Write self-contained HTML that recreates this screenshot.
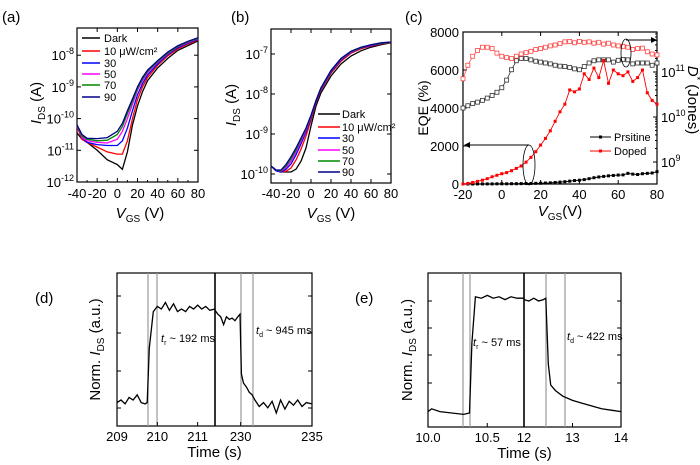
<!DOCTYPE html>
<html><head><meta charset="utf-8"><style>
html,body{margin:0;padding:0;background:#fff}
svg{display:block;font-family:"Liberation Sans",Arial,sans-serif}
</style></head><body>
<svg id="fig" width="700" height="465" viewBox="0 0 700 465" xmlns="http://www.w3.org/2000/svg"></svg>
<script>
// ---------- DATA ----------
const aX=[-40,-35,-30,-20,-10,0,5,10,15,20,25,30,40,50,60,70,80];
const aDark=[-10.45,-10.65,-10.75,-11.0,-11.3,-11.45,-11.6,-11.05,-10.2,-9.6,-9.15,-8.8,-8.4,-8.1,-7.85,-7.7,-7.55];
const a10=[-10.25,-10.65,-10.75,-10.9,-11.05,-11.12,-11.12,-10.7,-10.0,-9.4,-9.0,-8.7,-8.32,-8.02,-7.8,-7.65,-7.52];
const a30=[-10.2,-10.6,-10.75,-10.82,-10.85,-10.85,-10.7,-10.3,-9.75,-9.25,-8.9,-8.62,-8.27,-7.98,-7.76,-7.62,-7.5];
const a50=[-10.2,-10.6,-10.7,-10.75,-10.77,-10.65,-10.4,-10.0,-9.55,-9.1,-8.8,-8.55,-8.22,-7.95,-7.73,-7.6,-7.48];
const a70=[-10.2,-10.55,-10.65,-10.7,-10.68,-10.5,-10.25,-9.85,-9.45,-9.05,-8.75,-8.5,-8.2,-7.93,-7.72,-7.58,-7.47];
const a90=[-10.2,-10.5,-10.62,-10.63,-10.6,-10.4,-10.15,-9.75,-9.38,-9.0,-8.7,-8.47,-8.17,-7.9,-7.7,-7.56,-7.45];
const bX=[-40,-35,-30,-25,-20,-15,-10,-5,0,5,10,20,30,40,50,60,70,80];
const bDark=[-9.8,-9.9,-9.95,-9.95,-9.95,-9.88,-9.68,-9.35,-8.8,-8.3,-7.97,-7.55,-7.25,-7.05,-6.92,-6.83,-6.77,-6.72];
const b10=[-9.8,-9.92,-9.95,-9.93,-9.85,-9.65,-9.38,-9.05,-8.65,-8.22,-7.9,-7.48,-7.18,-6.98,-6.87,-6.8,-6.75,-6.71];
const b30=[-9.8,-9.92,-9.95,-9.88,-9.75,-9.52,-9.25,-8.95,-8.6,-8.2,-7.88,-7.45,-7.15,-6.96,-6.85,-6.79,-6.74,-6.7];
const b50=[-9.8,-9.9,-9.93,-9.84,-9.68,-9.45,-9.18,-8.9,-8.57,-8.18,-7.86,-7.43,-7.13,-6.95,-6.84,-6.78,-6.73,-6.7];
const b70=[-9.8,-9.9,-9.92,-9.8,-9.62,-9.4,-9.13,-8.87,-8.55,-8.17,-7.85,-7.42,-7.12,-6.94,-6.84,-6.77,-6.73,-6.7];
const b90=[-9.8,-9.9,-9.9,-9.76,-9.57,-9.35,-9.1,-8.85,-8.53,-8.16,-7.84,-7.41,-7.11,-6.93,-6.83,-6.77,-6.72,-6.7];
const legendLabels=["Dark","10 μW/cm²","30","50","70","90"];
const legendColors=["#000","#f00","#00f","#f0f","#080","#008"];
const cX=[-20,-17.5,-15,-12.5,-10,-7.5,-5,-2.5,0,2.5,5,7.5,10,12.5,15,17.5,20,22.5,25,27.5,30,32.5,35,37.5,40,42.5,45,47.5,50,52.5,55,57.5,60,62.5,65,67.5,70,72.5,75,77.5,80];
const cEqeDoped=[0,30,80,140,200,280,380,460,540,600,700,820,950,1150,1400,1700,2050,2400,2800,3300,3800,4200,4950,4850,5000,5800,5500,6100,5600,6500,5300,6000,5800,5700,5900,5400,5600,6000,4800,4400,4200];
const cEqePristine=[0,0,0,5,5,5,5,10,10,10,15,15,20,25,30,35,40,50,60,80,100,120,150,180,200,230,280,330,370,400,430,450,470,480,560,520,500,540,560,580,650];
const cDPristine=[10.2,10.25,10.3,10.33,10.37,10.42,10.48,10.55,10.65,10.82,11.05,11.25,11.3,11.3,11.27,11.24,11.22,11.2,11.18,11.15,11.13,11.12,11.1,11.07,11.05,11.12,11.2,11.25,11.27,11.27,11.27,11.22,11.26,11.28,11.27,11.18,11.2,11.2,11.2,11.15,11.2];
const cDDoped=[10.85,11.15,11.35,11.48,11.55,11.55,11.52,11.42,11.35,11.32,11.3,11.35,11.4,11.43,11.46,11.5,11.52,11.55,11.58,11.6,11.63,11.67,11.68,11.65,11.68,11.66,11.67,11.64,11.66,11.62,11.64,11.6,11.58,11.57,11.55,11.5,11.52,11.53,11.45,11.4,11.38];
const dLT=[209,209.1,209.2,209.3,209.4,209.5,209.6,209.7,209.75,209.8,209.9,210,210.1,210.2,210.3,210.4,210.5,210.6,210.7,210.8,210.9,211,211.1,211.2,211.3,211.43];
const dLV=[0.18,0.2,0.17,0.22,0.2,0.24,0.18,0.17,0.18,0.6,0.88,0.92,0.9,0.95,0.89,0.94,0.88,0.9,0.88,0.92,0.9,0.93,0.9,0.92,0.89,0.9];
const dRT=[228.2,228.4,228.6,228.8,229,229.2,229.4,229.6,229.8,229.95,230.05,230.2,230.4,230.6,230.8,231,231.3,231.6,231.9,232.2,232.5,232.8,233.1,233.4,233.7,234,234.3,234.6,235];
const dRV=[0.89,0.86,0.84,0.78,0.84,0.82,0.83,0.81,0.84,0.86,0.4,0.33,0.3,0.26,0.24,0.2,0.15,0.18,0.14,0.19,0.1,0.2,0.13,0.19,0.16,0.2,0.15,0.18,0.17];
const eLT=[10,10.03,10.1,10.2,10.3,10.35,10.37,10.4,10.45,10.5,10.55,10.6,10.65,10.7,10.75,10.81];
const eLV=[0.11,0.13,0.11,0.1,0.09,0.1,0.6,0.93,0.92,0.94,0.92,0.93,0.91,0.93,0.92,0.92];
const eRT=[12,12.1,12.2,12.3,12.4,12.45,12.5,12.55,12.65,12.8,13,13.2,13.4,13.6,13.8,14];
const eRV=[0.91,0.9,0.92,0.9,0.91,0.92,0.45,0.3,0.26,0.22,0.19,0.17,0.15,0.13,0.12,0.11];

// ---------- helpers ----------
const NS="http://www.w3.org/2000/svg";
const svg=document.getElementById('fig');
function el(tag,attrs,parent){const e=document.createElementNS(NS,tag);for(const k in attrs)e.setAttribute(k,attrs[k]);(parent||svg).appendChild(e);return e;}
function lin(d0,d1,p0,p1){return v=>p0+(v-d0)*(p1-p0)/(d1-d0);}
function pathD(xs,ys,fx,fy){return xs.map((x,i)=>(i?'L':'M')+fx(x).toFixed(1)+','+fy(ys[i]).toFixed(1)).join('');}
function txt(x,y,s,opt,name){const t=el('text',Object.assign({x:x,y:y,'font-size':12,fill:'#000'},opt||{}));t.textContent=s;return t;}
function expLabel(x,y,e,anchor,name){const t=el('text',{x:x,y:y,'font-size':13,'text-anchor':anchor||'end'});
 const a=el('tspan',{},t);a.textContent='10';const b=el('tspan',{'font-size':9,dy:-6},t);b.textContent=String(e);return t;}
function box(x0,y0,x1,y1,name){const r=el('rect',{x:x0,y:y0,width:x1-x0,height:y1-y0,fill:'none',stroke:'#000','stroke-width':1.2});}
function tick(x1,y1,x2,y2){const l=el('line',{x1:x1,y1:y1,x2:x2,y2:y2,stroke:'#000','stroke-width':1});}
function series(xs,ys,fx,fy,color,name,w){const p=el('path',{d:pathD(xs,ys,fx,fy),fill:'none',stroke:color,'stroke-width':w||1.3});return p;}
function ytitle(x,cy,main,sub,rest,rot,name){const t=el('text',{x:x,y:cy,'font-size':15,'text-anchor':'middle',transform:`rotate(${rot||-90} ${x} ${cy})`});
 const a=el('tspan',{'font-style':'italic'},t);a.textContent=main;if(sub){const b=el('tspan',{'font-size':10,dy:4},t);b.textContent=sub;}const c=el('tspan',{dy:sub?-4:0},t);c.textContent=rest;return t;}
function vgsTitle(x,y,name,rest){const t=el('text',{x:x,y:y,'font-size':15,'text-anchor':'middle'});
 const s1=el('tspan',{'font-style':'italic'},t);s1.textContent='V';const s2=el('tspan',{'font-size':10,dy:4},t);s2.textContent='GS';const s3=el('tspan',{dy:-4},t);s3.textContent=rest;}

// panel labels
txt(2,22,'(a)',{'font-size':15},'panel-label-a');
txt(231,22,'(b)',{'font-size':15},'panel-label-b');
txt(405,22,'(c)',{'font-size':15},'panel-label-c');
txt(35,303,'(d)',{'font-size':15},'panel-label-d');
txt(355,303,'(e)',{'font-size':15},'panel-label-e');

// ---------- panel a ----------
(function(){const X0=77,X1=198,Y0=28,Y1=182;
 const fx=lin(-40,80,X0,X1),fy=lin(-12,-11,Y1,Y1-31.7);
 box(X0,Y0,X1,Y1,'plot-area-a');
 [-40,-20,0,20,40,60,80].forEach(v=>{tick(fx(v),Y1,fx(v),Y1-4);tick(fx(v),Y0,fx(v),Y0+4);txt(fx(v),198,String(v),{'font-size':13,'text-anchor':'middle'},'x-tick-label-a');});
 [-40,-30,-10,10,30,50,70].forEach(v=>{tick(fx(v),Y1,fx(v),Y1-2);});
 [-12,-11,-10,-9,-8].forEach(e=>{tick(X0,fy(e),X0+4,fy(e));tick(X1,fy(e),X1-4,fy(e));expLabel(X0-3,fy(e)+5,e,'end','y-tick-label-a');});
 [aDark,a10,a30,a50,a70,a90].forEach((s,i)=>series(aX,s,fx,fy,legendColors[i],'series-a-'+i));
 const ly=[38,51,63,74,85,97];
 legendLabels.forEach((l,i)=>{const ln=el('line',{x1:82,y1:ly[i],x2:100,y2:ly[i],stroke:legendColors[i],'stroke-width':1.5});txt(104,ly[i]+4,l,{'font-size':11},'legend-entry-a');});
 ytitle(41,103,'I','DS',' (A)',-90,'y-axis-title-a');
 vgsTitle(140,218,'x-axis-title-a',' (V)');
})();

// ---------- panel b ----------
(function(){const X0=271,X1=391,Y0=29,Y1=183;
 const fx=lin(-40,80,X0,X1),fy=lin(-10,-9,174,134);
 box(X0,Y0,X1,Y1,'plot-area-b');
 [-40,-20,0,20,40,60,80].forEach(v=>{tick(fx(v),Y1,fx(v),Y1-4);tick(fx(v),Y0,fx(v),Y0+4);txt(fx(v),198,String(v),{'font-size':13,'text-anchor':'middle'},'x-tick-label-b');});
 [-10,-9,-8,-7].forEach(e=>{tick(X0,fy(e),X0+4,fy(e));tick(X1,fy(e),X1-4,fy(e));expLabel(X0-3,fy(e)+5,e,'end','y-tick-label-b');});
 [bDark,b10,b30,b50,b70,b90].forEach((s,i)=>series(bX,s,fx,fy,legendColors[i],'series-b-'+i));
 const ly=[114,127,138,150,161,172];
 legendLabels.forEach((l,i)=>{const ln=el('line',{x1:318,y1:ly[i],x2:340,y2:ly[i],stroke:legendColors[i],'stroke-width':1.5});txt(342,ly[i]+4,l,{'font-size':11},'legend-entry-b');});
 ytitle(236,105,'I','DS',' (A)',-90,'y-axis-title-b');
 vgsTitle(331,218,'x-axis-title-b',' (V)');
})();

// ---------- panel c ----------
(function(){const X0=463,X1=657,Y0=32,Y1=184;
 const fx=lin(-20,80,X0,X1),fy=lin(0,8000,Y1,Y0),fr=lin(11,10,72,117);
 box(X0,Y0,X1,Y1,'plot-area-c');
 [-20,0,20,40,60,80].forEach(v=>{tick(fx(v),Y1,fx(v),Y1-4);tick(fx(v),Y0,fx(v),Y0+4);txt(fx(v),199,String(v),{'font-size':13,'text-anchor':'middle'},'x-tick-label-c');});
 [0,2000,4000,6000,8000].forEach(v=>{tick(X0,fy(v),X0+4,fy(v));txt(X0-4,fy(v)+5,String(v),{'font-size':13,'text-anchor':'end'},'y-tick-label-c');});
 [9,10,11].forEach(e=>{tick(X1,fr(e),X1-4,fr(e));expLabel(X1+4,fr(e)+5,e,'start','y2-tick-label-c');});
 for(let e=9;e<12;e++)for(let m=2;m<10;m++){const y=fr(e+Math.log10(m));if(y>Y0&&y<Y1)tick(X1,y,X1-2,y);}
 series(cX,cDPristine,fx,fr,'#333','series-dstar-pristine',0.8);
 series(cX,cDDoped,fx,fr,'#f55','series-dstar-doped',0.8);
 cX.forEach((x,i)=>{const r=el('rect',{x:fx(x)-2,y:fr(cDPristine[i])-2,width:4,height:4,fill:'#fff',stroke:'#333','stroke-width':0.8});
  const q=el('rect',{x:fx(x)-2,y:fr(cDDoped[i])-2,width:4,height:4,fill:'#fff',stroke:'#f44','stroke-width':0.8});});
 series(cX,cEqePristine,fx,fy,'#000','series-eqe-pristine',0.9);
 series(cX,cEqeDoped,fx,fy,'#f00','series-eqe-doped',0.9);
 cX.forEach((x,i)=>{const r=el('rect',{x:fx(x)-1.5,y:fy(cEqePristine[i])-1.5,width:3,height:3,fill:'#000'});
  const q=el('rect',{x:fx(x)-1.5,y:fy(cEqeDoped[i])-1.5,width:3,height:3,fill:'#f00'});});
 const e1=el('ellipse',{cx:529,cy:165,rx:6,ry:20,fill:'none',stroke:'#000','stroke-width':0.8});
 const a1=el('line',{x1:529,y1:145,x2:468,y2:145,stroke:'#000','stroke-width':1});
 const h1=el('path',{d:'M464,145 L470,142 L470,148 Z',fill:'#000'});
 const e2=el('ellipse',{cx:626,cy:53,rx:5,ry:14,fill:'none',stroke:'#000','stroke-width':0.8});
 const a2=el('line',{x1:626,y1:40,x2:652,y2:40,stroke:'#000','stroke-width':1});
 const h2=el('path',{d:'M657,40 L651,37 L651,43 Z',fill:'#000'});
 [['Prsitine','#000',137],['Doped','#f00',151]].forEach(([l,c,y])=>{const ln=el('line',{x1:590,y1:y,x2:611,y2:y,stroke:c,'stroke-width':1});
  const m=el('rect',{x:599,y:y-1.5,width:3,height:3,fill:c});txt(614,y+4,l,{'font-size':11},'legend-entry-c');});
 const yt=el('text',{x:428,y:108,'font-size':14,'text-anchor':'middle',transform:'rotate(-90 428 108)'});yt.textContent='EQE (%)';
 const rt=el('text',{x:688,y:100,'font-size':15,'text-anchor':'middle',transform:'rotate(90 688 100)'});
 const r1=el('tspan',{'font-style':'italic'},rt);r1.textContent='D';const r2=el('tspan',{'font-size':9,dy:-6},rt);r2.textContent='*';const r3=el('tspan',{dy:6},rt);r3.textContent=' (Jones)';
 vgsTitle(560,216,'x-axis-title-c','(V)');
})();

// ---------- transient panels ----------
function transient(o){
 box(o.X0,o.Y0,o.X1,o.Y1,'plot-area-'+o.id);
 const bl=el('line',{x1:o.XB,y1:o.Y0,x2:o.XB,y2:o.Y1,stroke:'#000','stroke-width':1.6});
 const fl=lin(o.l0,o.l1,o.X0,o.XB),fr=lin(o.r0,o.r1,o.XB,o.X1),fy=lin(0,1,o.Y1,o.Y1-o.ys);
 o.gray.forEach(x=>{const g=el('line',{x1:x,y1:o.Y0,x2:x,y2:o.Y1,stroke:'#999','stroke-width':1.2});});
 series(o.lt,o.lv,fl,fy,'#000','trace-left-'+o.id,1.3);
 series(o.rt,o.rv,fr,fy,'#000','trace-right-'+o.id,1.3);
 o.yt.forEach(y=>{tick(o.X0,y,o.X0+4,y);tick(o.X1,y,o.X1-4,y);});
 o.xl.forEach(([v,side,s])=>{const x=side?fr(v):fl(v);tick(x,o.Y1,x,o.Y1-4);txt(x,o.Y1+15,s,{'font-size':13,'text-anchor':'middle'},'x-tick-label-'+o.id);});
 [[o.trx,o.try,'r',o.trs],[o.tdx,o.tdy,'d',o.tds]].forEach(([x,y,sub,s])=>{const t=el('text',{x:x,y:y,'font-size':11});
  const a=el('tspan',{'font-style':'italic'},t);a.textContent='t';const b=el('tspan',{'font-size':7,dy:3},t);b.textContent=sub;const c=el('tspan',{dy:-3},t);c.textContent=' ~ '+s;});
 const cy=(o.Y0+o.Y1)/2;
 const t=el('text',{x:o.ytx,y:cy,'font-size':15,'text-anchor':'middle',transform:`rotate(-90 ${o.ytx} ${cy})`});
 const a=el('tspan',{},t);a.textContent='Norm. ';const b=el('tspan',{'font-style':'italic'},t);b.textContent='I';const c=el('tspan',{'font-size':10,dy:4},t);c.textContent='DS';const d=el('tspan',{dy:-4},t);d.textContent=' (a.u.)';
 txt((o.X0+o.X1)/2,o.Y1+31,'Time (s)',{'font-size':15,'text-anchor':'middle'},'x-axis-title-'+o.id);
}
transient({id:'d',X0:117,X1:312,XB:215,Y0:273,Y1:426,ys:130,l0:209,l1:211.43,r0:228.2,r1:235,lt:dLT,lv:dLV,rt:dRT,rv:dRV,
 gray:[148,157,241,253],yt:[296,333,371,408],xl:[[209,0,'209'],[210,0,'210'],[211,0,'211'],[230,1,'230'],[235,1,'235']],
 trx:161,try:342,trs:'192 ms',tdx:256,tdy:334,tds:'945 ms',ytx:100});
transient({id:'e',X0:428,X1:621,XB:524,Y0:273,Y1:427,ys:140,l0:10,l1:10.81,r0:12,r1:14,lt:eLT,lv:eLV,rt:eRT,rv:eRV,
 gray:[463,470,546,565],yt:[301,328,355,383],xl:[[10,0,'10.0'],[10.5,0,'10.5'],[12,1,'12'],[13,1,'13'],[14,1,'14']],
 trx:473,try:346,trs:'57 ms',tdx:567,tdy:340,tds:'422 ms',ytx:412});
</script>
</body></html>
